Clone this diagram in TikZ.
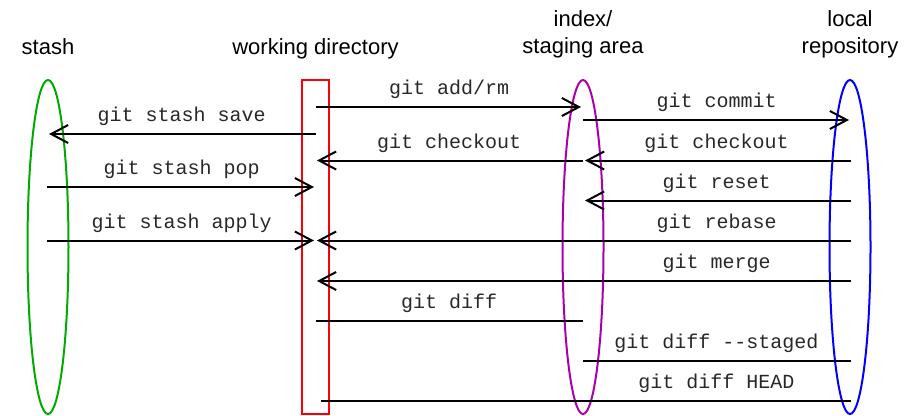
\documentclass[tikz,border=0pt]{standalone}
\usepackage{fontspec}
\setmainfont{Liberation Sans}
\setmonofont{Liberation Mono}
\usetikzlibrary{arrows.meta,shapes.geometric,calc}
\definecolor{stashgreen}{RGB}{0,170,0}
\definecolor{indexpurple}{RGB}{170,0,170}
\definecolor{repoblue}{RGB}{0,0,255}
\definecolor{wdred}{RGB}{255,0,0}
\definecolor{cmdgray}{RGB}{40,40,40}
\begin{document}
\begin{tikzpicture}[x=1pt,y=-1pt,
  column/.style={line width=2pt, inner sep=0pt, minimum height=334pt},
  oval/.style={column, ellipse, minimum width=41pt},
  title/.style={font=\fontsize{22}{26.7}\selectfont, align=center, anchor=base, inner sep=0pt},
  cmd/.style={font=\ttfamily\fontsize{20}{24}\selectfont, text=cmdgray, anchor=base, inner sep=0pt},
  flow/.style={line width=2pt, -{Straight Barb[length=17pt,width=18pt]}},
  plainline/.style={line width=2pt}]
\useasboundingbox (0,0) rectangle (917,415);

% the four areas
\node[oval, draw=stashgreen] (stash) at (48,247) {};
\node[column, rectangle, draw=wdred, minimum width=27pt] (wd) at (315.5,247) {};
\node[oval, draw=indexpurple] (idx) at (583,247) {};
\node[oval, draw=repoblue] (repo) at (850,247) {};

% column titles (base anchor sits on the last line)
\node[title] (tStash) at (48,54) {stash};
\node[title] (tWd) at (315.5,54) {working directory};
\node[title] (tIdx) at (583,53.5) {index/\\staging area};
\node[title] (tRepo) at (850,53.5) {local\\repository};

% rows of commands
\coordinate (rAdd) at (0,107);
\coordinate (rCommit) at (0,120);
\coordinate (rSave) at (0,134);
\coordinate (rCheckout) at (0,160.5);
\coordinate (rPop) at (0,187);
\coordinate (rReset) at (0,200.5);
\coordinate (rApply) at (0,240.5);
\coordinate (rMerge) at (0,281);
\coordinate (rDiff) at (0,321);
\coordinate (rStaged) at (0,361);
\coordinate (rHead) at (0,401);

% arrows and lines
\draw[flow] (wd |- rAdd) -- ([xshift=-2pt]idx |- rAdd);
\draw[flow] (idx |- rCommit) -- ([xshift=-1pt]repo |- rCommit);
\draw[flow] (wd |- rSave) -- ([xshift=1pt]stash |- rSave);
\draw[flow] (idx |- rCheckout) -- ([xshift=1.5pt]wd |- rCheckout);
\draw[flow] ([xshift=1pt]repo |- rCheckout) -- ([xshift=2pt]idx |- rCheckout);
\draw[flow] ([xshift=-1pt]stash |- rPop) -- ([xshift=-1.5pt]wd |- rPop);
\draw[flow] ([xshift=1pt]repo |- rReset) -- ([xshift=2pt]idx |- rReset);
\draw[flow] ([xshift=-1pt]stash |- rApply) -- ([xshift=-1.5pt]wd |- rApply);
\draw[flow] ([xshift=1pt]repo |- rApply) -- ([xshift=1.5pt]wd |- rApply);
\draw[flow] ([xshift=1pt]repo |- rMerge) -- ([xshift=1.5pt]wd |- rMerge);
\draw[plainline] (wd |- rDiff) -- (idx |- rDiff);
\draw[plainline] (idx |- rStaged) -- ([xshift=1pt]repo |- rStaged);
\draw[plainline] ([xshift=5.5pt]wd |- rHead) -- ([xshift=1pt]repo |- rHead);

% command labels
\node[cmd] (lAdd) at ($(wd |- rAdd)!0.5!(idx |- rAdd)+(0,-12.5)$) {git add/rm};
\node[cmd] (lCommit) at ($(idx |- rCommit)!0.5!(repo |- rCommit)+(0,-12.5)$) {git commit};
\node[cmd] (lSave) at ($(stash |- rSave)!0.5!(wd |- rSave)+(0,-12.5)$) {git stash save};
\node[cmd] (lCheckoutWd) at ($(wd |- rCheckout)!0.5!(idx |- rCheckout)+(0,-12.5)$) {git checkout};
\node[cmd] (lCheckoutIdx) at ($(idx |- rCheckout)!0.5!(repo |- rCheckout)+(0,-12.5)$) {git checkout};
\node[cmd] (lPop) at ($(stash |- rPop)!0.5!(wd |- rPop)+(0,-12.5)$) {git stash pop};
\node[cmd] (lReset) at ($(idx |- rReset)!0.5!(repo |- rReset)+(0,-12.5)$) {git reset};
\node[cmd] (lApply) at ($(stash |- rApply)!0.5!(wd |- rApply)+(0,-12.5)$) {git stash apply};
\node[cmd] (lRebase) at ($(idx |- rApply)!0.5!(repo |- rApply)+(0,-12.5)$) {git rebase};
\node[cmd] (lMerge) at ($(idx |- rMerge)!0.5!(repo |- rMerge)+(0,-12.5)$) {git merge};
\node[cmd] (lDiff) at ($(wd |- rDiff)!0.5!(idx |- rDiff)+(0,-12.5)$) {git diff};
\node[cmd] (lStaged) at ($(idx |- rStaged)!0.5!(repo |- rStaged)+(0,-12.5)$) {git diff -{}-staged};
\node[cmd] (lHead) at ($(idx |- rHead)!0.5!(repo |- rHead)+(0,-12.5)$) {git diff HEAD};
\end{tikzpicture}
\end{document}
